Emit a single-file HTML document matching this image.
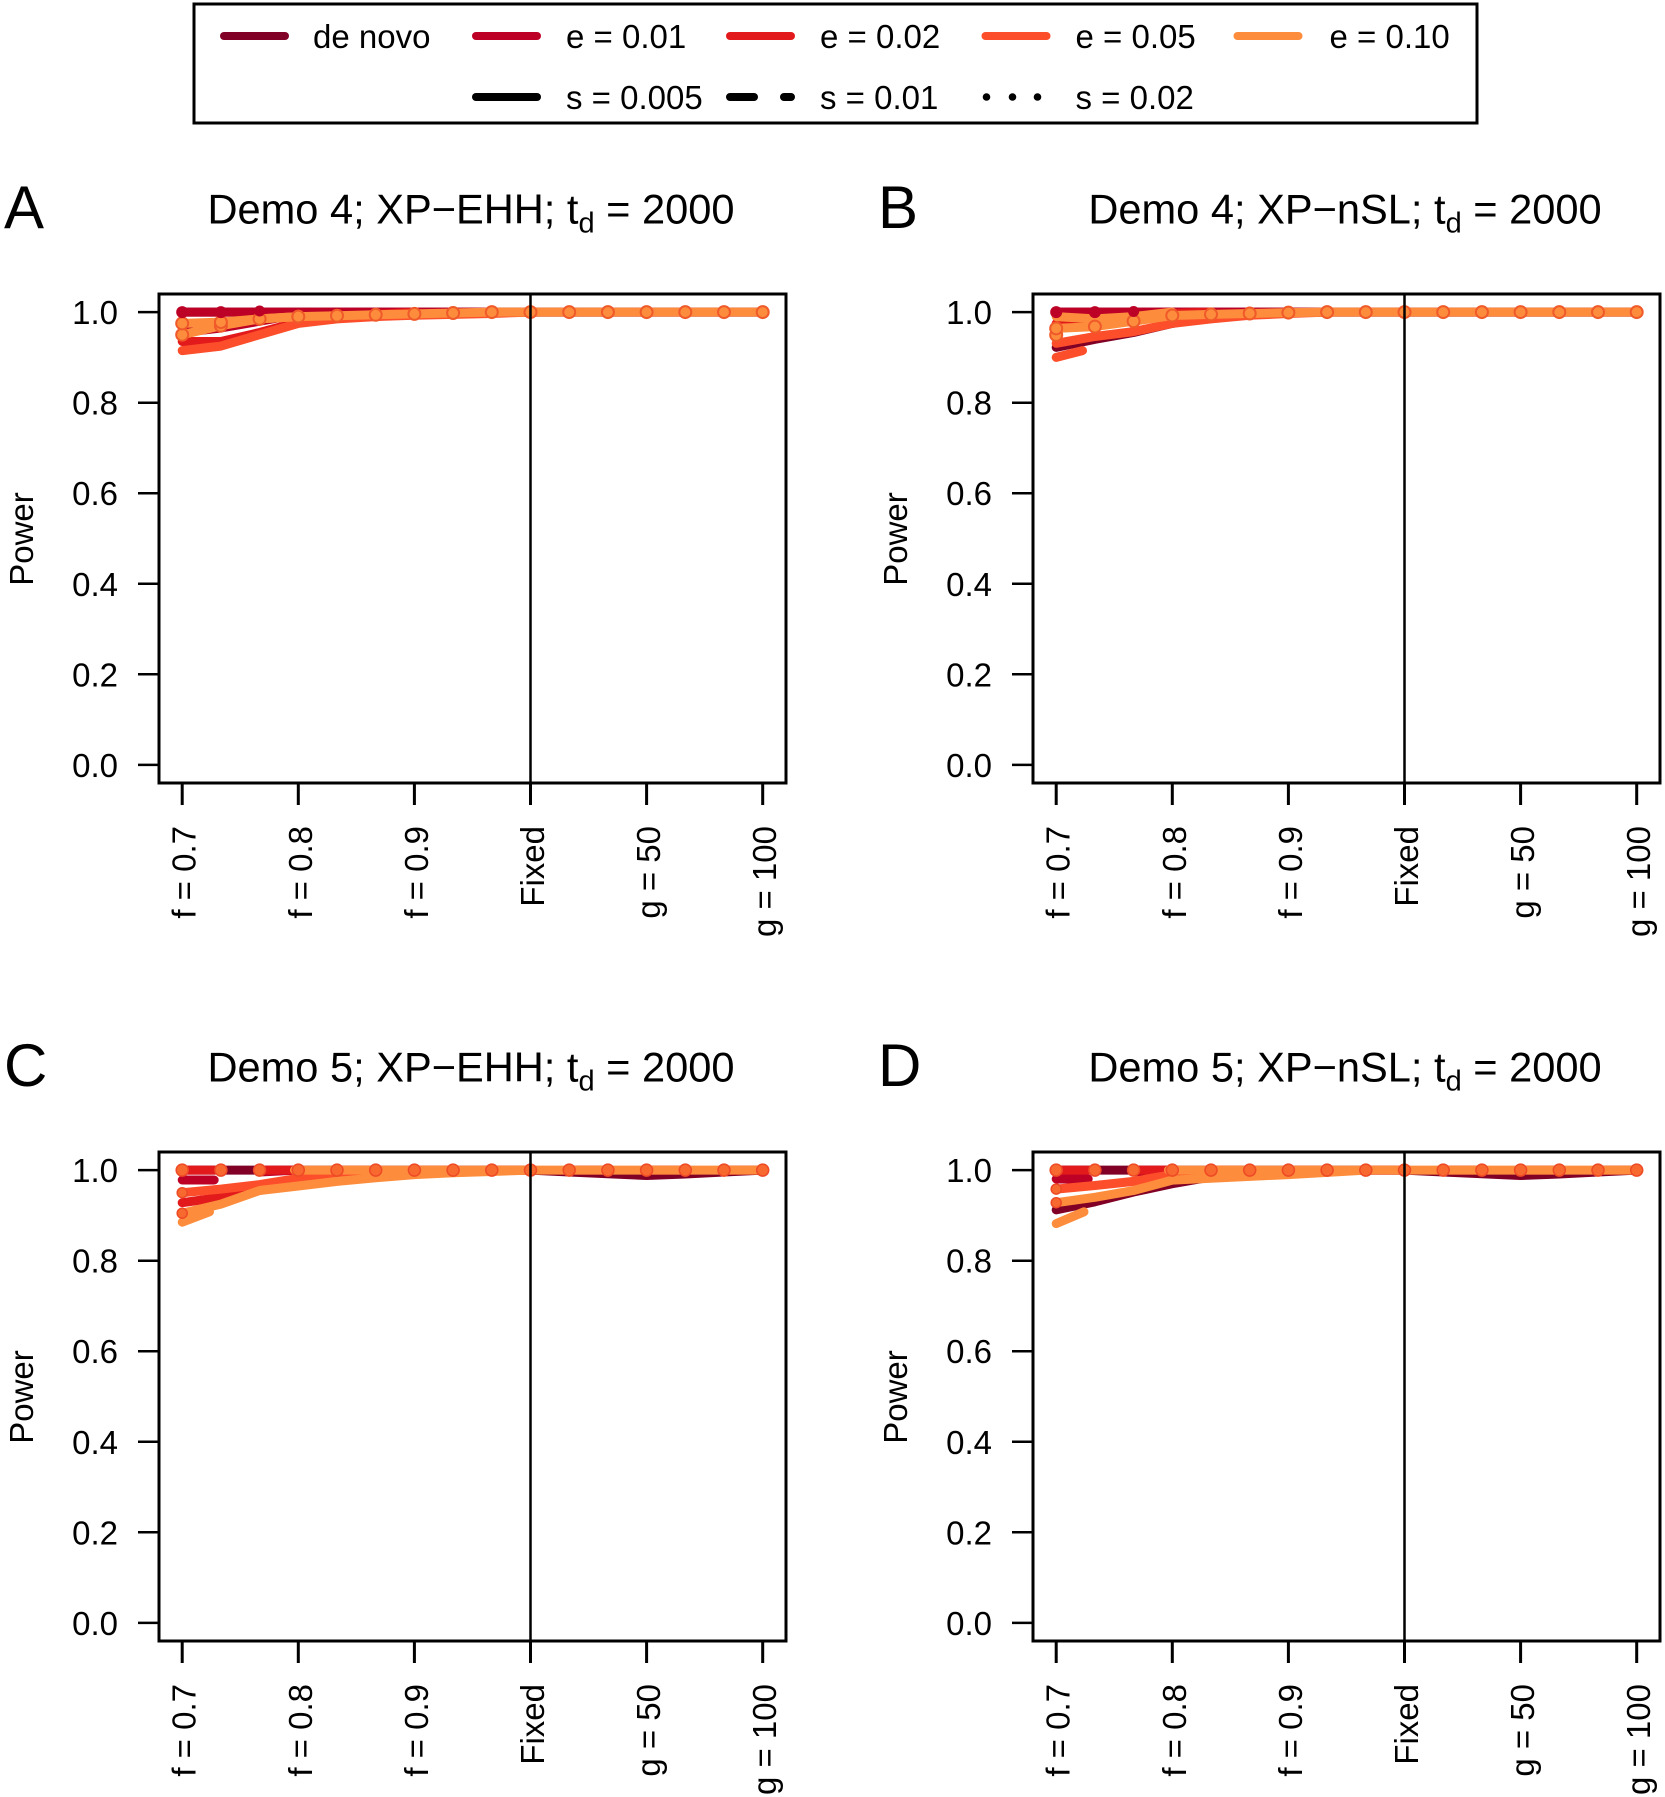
<!DOCTYPE html>
<html>
<head>
<meta charset="utf-8">
<style>
html,body{margin:0;padding:0;background:#fff;}
svg{display:block;font-family:"Liberation Sans",Arial,sans-serif;}
text{white-space:pre;}
</style>
</head>
<body>
<svg width="1665" height="1797" viewBox="0 0 1665 1797" xmlns="http://www.w3.org/2000/svg">
<rect width="1665" height="1797" fill="#fff"/>

<!-- LEGEND -->
<g>
<rect x="194" y="4" width="1283" height="119" fill="none" stroke="#000" stroke-width="3"/>
<g stroke-width="8" stroke-linecap="round" fill="none">
<line x1="224" y1="36" x2="285" y2="36" stroke="#800026"/>
<line x1="476" y1="36" x2="537" y2="36" stroke="#BD0026"/>
<line x1="730" y1="36" x2="791" y2="36" stroke="#E31A1C"/>
<line x1="985.5" y1="36" x2="1046.5" y2="36" stroke="#FC4E2A"/>
<line x1="1237.5" y1="36" x2="1298.5" y2="36" stroke="#FD8D3C"/>
<line x1="476" y1="97" x2="537" y2="97" stroke="#000"/>
<line x1="730" y1="97" x2="791" y2="97" stroke="#000" stroke-dasharray="24 30"/>
</g>
<circle cx="986.5" cy="97" r="3.8" fill="#000"/>
<circle cx="1012.5" cy="97" r="3.8" fill="#000"/>
<circle cx="1037.5" cy="97" r="3.8" fill="#000"/>
<g font-size="33" fill="#000">
<text x="313" y="48">de novo</text>
<text x="566" y="48">e = 0.01</text>
<text x="820" y="48">e = 0.02</text>
<text x="1075.5" y="48">e = 0.05</text>
<text x="1329.5" y="48">e = 0.10</text>
<text x="566" y="109">s = 0.005</text>
<text x="820" y="109">s = 0.01</text>
<text x="1075.5" y="109">s = 0.02</text>
</g>
</g>

<!-- PANEL A -->
<g transform="translate(159,294)">
<g fill="none" stroke-linecap="round" stroke-linejoin="round" stroke-width="9">
<polyline stroke="#800026" points="23.2,18.1 603.7,18.1"/>
<polyline stroke="#BD0026" points="23.2,18.1 603.7,18.1"/>
<polyline stroke="#BD0026" points="23.2,38.5 61.9,34 100.6,27.2 139.3,20.4 178,18.1"/>
<polyline stroke="#E31A1C" points="23.2,47.5 61.9,47.5 100.6,38.5 139.3,28.1 178,22.6 216.7,20.4 255.4,18.1"/>
<polyline stroke="#FC4E2A" points="23.2,56.6 61.9,52.1 100.6,40.7 139.3,29.4 178,24.9 216.7,22.6 255.4,21.3 294.1,20.4 332.8,19.5 371.5,18.1"/>
<polyline stroke="#FD8D3C" points="23.2,40.7 61.9,31.7 100.6,24.9 139.3,22.6"/>
<polyline stroke="#FD8D3C" points="23.2,29.4 61.9,28.1 100.6,24.9 139.3,22.6 178,21.7 216.7,20.8 255.4,19.9 294.1,19 332.8,18.1 603.7,18.1"/>
</g>
<g fill="#FD8D3C" stroke="#F05A2A" stroke-width="2">
<circle cx="23.2" cy="40.7" r="6"/><circle cx="61.9" cy="31.7" r="6"/>
<circle cx="23.2" cy="29.4" r="6"/><circle cx="61.9" cy="28.1" r="6"/><circle cx="100.6" cy="24.9" r="6"/><circle cx="139.3" cy="22.6" r="6"/>
<circle cx="178" cy="21.7" r="6"/><circle cx="216.7" cy="20.8" r="6"/><circle cx="255.4" cy="19.9" r="6"/><circle cx="294.1" cy="19" r="6"/>
<circle cx="332.8" cy="18.1" r="6"/><circle cx="371.5" cy="18.1" r="6"/><circle cx="410.2" cy="18.1" r="6"/><circle cx="448.9" cy="18.1" r="6"/>
<circle cx="487.6" cy="18.1" r="6"/><circle cx="526.3" cy="18.1" r="6"/><circle cx="565" cy="18.1" r="6"/><circle cx="603.7" cy="18.1" r="6"/>
</g>
<g fill="#BD0026"><circle cx="23.2" cy="18.1" r="6"/><circle cx="61.9" cy="18.1" r="6"/><circle cx="100.6" cy="17" r="5.5"/></g>

<rect x="0" y="0" width="627" height="489" fill="none" stroke="#000" stroke-width="3"/>
<line x1="371.5" y1="0" x2="371.5" y2="489" stroke="#000" stroke-width="2.5"/>
<path d="M-21 18.1H0M-21 108.7H0M-21 199.2H0M-21 289.8H0M-21 380.3H0M-21 470.9H0" stroke="#000" stroke-width="2.5"/>
<path d="M23.2 489V511M139.3 489V511M255.4 489V511M371.5 489V511M487.6 489V511M603.7 489V511" stroke="#000" stroke-width="3"/>
<g font-size="33" fill="#000" text-anchor="end">
<text x="-41" y="30.1">1.0</text><text x="-41" y="120.7">0.8</text><text x="-41" y="211.2">0.6</text>
<text x="-41" y="301.8">0.4</text><text x="-41" y="392.3">0.2</text><text x="-41" y="482.9">0.0</text>
<text transform="translate(36.7,532) rotate(-90)">f = 0.7</text>
<text transform="translate(152.8,532) rotate(-90)">f = 0.8</text>
<text transform="translate(268.9,532) rotate(-90)">f = 0.9</text>
<text transform="translate(385,532) rotate(-90)">Fixed</text>
<text transform="translate(501.1,532) rotate(-90)">g = 50</text>
<text transform="translate(617.2,532) rotate(-90)">g = 100</text>
</g>
<text transform="translate(-126,245) rotate(-90)" text-anchor="middle" font-size="33">Power</text>
<text x="312" y="-70.5" text-anchor="middle" font-size="41.6">Demo 4; XP−EHH; t<tspan font-size="29" dy="9">d</tspan><tspan dy="-9"> = 2000</tspan></text>
<text x="-155" y="-66" font-size="60">A</text>
</g>

<!-- PANEL B -->
<g transform="translate(1033,294)">
<g fill="none" stroke-linecap="round" stroke-linejoin="round" stroke-width="9">
<polyline stroke="#800026" points="23.2,18.1 603.7,18.1"/>
<polyline stroke="#800026" points="23.2,53.4 61.9,45.3 100.6,38.5 139.3,29.4 178,22.6 216.7,18.1"/>
<polyline stroke="#BD0026" points="23.2,18.1 603.7,18.1"/>
<polyline stroke="#BD0026" points="23.2,31.7 61.9,29.4 100.6,22.6 139.3,18.1"/>
<polyline stroke="#E31A1C" points="23.2,29.4 61.9,28.1 100.6,22.6 139.3,19.5 178,18.1"/>
<polyline stroke="#FC4E2A" points="23.2,49.3 61.9,42.5 100.6,37.6 139.3,29.4 178,24.9 216.7,21.3 255.4,19.5 294.1,18.1"/>
<polyline stroke="#FC4E2A" points="23.2,63.4 49.5,56.6"/>
<polyline stroke="#FD8D3C" points="23.2,22.6 61.9,24.9 100.6,22.6 139.3,18.1"/>
<polyline stroke="#FD8D3C" points="23.2,34.4 61.9,32.6 100.6,27.2 139.3,21.5 178,20.4 216.7,19.5 255.4,18.6 294.1,18.1 603.7,18.1"/>
</g>
<g fill="#FD8D3C" stroke="#F05A2A" stroke-width="2">
<circle cx="23.2" cy="41" r="6"/>
<circle cx="23.2" cy="34.4" r="6"/><circle cx="61.9" cy="32.6" r="6"/><circle cx="100.6" cy="27.2" r="6"/><circle cx="139.3" cy="21.5" r="6"/>
<circle cx="178" cy="20.4" r="6"/><circle cx="216.7" cy="19.5" r="6"/><circle cx="255.4" cy="18.6" r="6"/><circle cx="294.1" cy="18.1" r="6"/>
<circle cx="332.8" cy="18.1" r="6"/><circle cx="371.5" cy="18.1" r="6"/><circle cx="410.2" cy="18.1" r="6"/><circle cx="448.9" cy="18.1" r="6"/>
<circle cx="487.6" cy="18.1" r="6"/><circle cx="526.3" cy="18.1" r="6"/><circle cx="565" cy="18.1" r="6"/><circle cx="603.7" cy="18.1" r="6"/>
</g>
<g fill="#BD0026"><circle cx="23.2" cy="18.1" r="6"/><circle cx="61.9" cy="18.1" r="6"/><circle cx="100.6" cy="17.5" r="5.5"/></g>

<rect x="0" y="0" width="627" height="489" fill="none" stroke="#000" stroke-width="3"/>
<line x1="371.5" y1="0" x2="371.5" y2="489" stroke="#000" stroke-width="2.5"/>
<path d="M-21 18.1H0M-21 108.7H0M-21 199.2H0M-21 289.8H0M-21 380.3H0M-21 470.9H0" stroke="#000" stroke-width="2.5"/>
<path d="M23.2 489V511M139.3 489V511M255.4 489V511M371.5 489V511M487.6 489V511M603.7 489V511" stroke="#000" stroke-width="3"/>
<g font-size="33" fill="#000" text-anchor="end">
<text x="-41" y="30.1">1.0</text><text x="-41" y="120.7">0.8</text><text x="-41" y="211.2">0.6</text>
<text x="-41" y="301.8">0.4</text><text x="-41" y="392.3">0.2</text><text x="-41" y="482.9">0.0</text>
<text transform="translate(36.7,532) rotate(-90)">f = 0.7</text>
<text transform="translate(152.8,532) rotate(-90)">f = 0.8</text>
<text transform="translate(268.9,532) rotate(-90)">f = 0.9</text>
<text transform="translate(385,532) rotate(-90)">Fixed</text>
<text transform="translate(501.1,532) rotate(-90)">g = 50</text>
<text transform="translate(617.2,532) rotate(-90)">g = 100</text>
</g>
<text transform="translate(-126,245) rotate(-90)" text-anchor="middle" font-size="33">Power</text>
<text x="312" y="-70.5" text-anchor="middle" font-size="41.6">Demo 4; XP−nSL; t<tspan font-size="29" dy="9">d</tspan><tspan dy="-9"> = 2000</tspan></text>
<text x="-155" y="-66" font-size="60">B</text>
</g>

<!-- PANEL C -->
<g transform="translate(159,1152)">
<g fill="none" stroke-linecap="round" stroke-linejoin="round" stroke-width="9">
<polyline stroke="#800026" points="23.2,18.1 371.5,18.1 410.2,20 448.9,21.8 487.6,23.5 526.3,22 565,20 603.7,18.1"/>
<polyline stroke="#BD0026" stroke-dasharray="32 46" points="23.2,28 61.9,28 100.6,20 139.3,18.1 603.7,18.1"/>
<polyline stroke="#E31A1C" stroke-dasharray="32 46" points="23.2,18.1 603.7,18.1"/>
<polyline stroke="#E31A1C" points="23.2,50.7 61.9,45.3 100.6,38.5 139.3,29.4 178,24.9 216.7,21.3 255.4,18.1"/>
<polyline stroke="#FC4E2A" points="23.2,40.7 61.9,37.1 100.6,32.6 139.3,26.3 178,23.5 216.7,22.6 255.4,20.4 294.1,18.1"/>
<polyline stroke="#FD8D3C" points="23.2,61.2 61.9,52.1 100.6,38.5 139.3,34 178,29.4 216.7,25.8 255.4,22.6 294.1,20.8 332.8,19.5 371.5,18.1"/>
<polyline stroke="#FD8D3C" points="23.2,70.2 50.5,59.8"/>
<polyline stroke="#FD8D3C" points="135.5,18.1 603.7,18.1"/>
</g>
<g fill="#F8692F" stroke="#EE4A26" stroke-width="1.5">
<circle cx="23.2" cy="18.1" r="6"/><circle cx="61.9" cy="18.1" r="6"/><circle cx="100.6" cy="18.1" r="6"/>
<circle cx="139.3" cy="18.1" r="6"/><circle cx="178" cy="18.1" r="6"/><circle cx="216.7" cy="18.1" r="6"/><circle cx="255.4" cy="18.1" r="6"/>
<circle cx="294.1" cy="18.1" r="6"/><circle cx="332.8" cy="18.1" r="6"/><circle cx="371.5" cy="18.1" r="6"/><circle cx="410.2" cy="18.1" r="6"/>
<circle cx="448.9" cy="18.1" r="6"/><circle cx="487.6" cy="18.1" r="6"/><circle cx="526.3" cy="18.1" r="6"/><circle cx="565" cy="18.1" r="6"/>
<circle cx="603.7" cy="18.1" r="6"/>
<circle cx="23.2" cy="40.7" r="5"/><circle cx="23.2" cy="61.2" r="5"/>
</g>

<rect x="0" y="0" width="627" height="489" fill="none" stroke="#000" stroke-width="3"/>
<line x1="371.5" y1="0" x2="371.5" y2="489" stroke="#000" stroke-width="2.5"/>
<path d="M-21 18.1H0M-21 108.7H0M-21 199.2H0M-21 289.8H0M-21 380.3H0M-21 470.9H0" stroke="#000" stroke-width="2.5"/>
<path d="M23.2 489V511M139.3 489V511M255.4 489V511M371.5 489V511M487.6 489V511M603.7 489V511" stroke="#000" stroke-width="3"/>
<g font-size="33" fill="#000" text-anchor="end">
<text x="-41" y="30.1">1.0</text><text x="-41" y="120.7">0.8</text><text x="-41" y="211.2">0.6</text>
<text x="-41" y="301.8">0.4</text><text x="-41" y="392.3">0.2</text><text x="-41" y="482.9">0.0</text>
<text transform="translate(36.7,532) rotate(-90)">f = 0.7</text>
<text transform="translate(152.8,532) rotate(-90)">f = 0.8</text>
<text transform="translate(268.9,532) rotate(-90)">f = 0.9</text>
<text transform="translate(385,532) rotate(-90)">Fixed</text>
<text transform="translate(501.1,532) rotate(-90)">g = 50</text>
<text transform="translate(617.2,532) rotate(-90)">g = 100</text>
</g>
<text transform="translate(-126,245) rotate(-90)" text-anchor="middle" font-size="33">Power</text>
<text x="312" y="-70.5" text-anchor="middle" font-size="41.6">Demo 5; XP−EHH; t<tspan font-size="29" dy="9">d</tspan><tspan dy="-9"> = 2000</tspan></text>
<text x="-155" y="-66" font-size="60">C</text>
</g>

<!-- PANEL D -->
<g transform="translate(1033,1152)">
<g fill="none" stroke-linecap="round" stroke-linejoin="round" stroke-width="9">
<polyline stroke="#800026" points="23.2,18.1 371.5,18.1 410.2,20 448.9,21.8 487.6,23.5 526.3,22 565,20 603.7,18.1"/>
<polyline stroke="#800026" points="23.2,57.9 61.9,49.8 100.6,40 139.3,31.7 178,24.9 216.7,20.4 255.4,18.1"/>
<polyline stroke="#BD0026" stroke-dasharray="32 46" points="23.2,27 61.9,27 100.6,20 139.3,18.1 603.7,18.1"/>
<polyline stroke="#E31A1C" stroke-dasharray="32 46" points="23.2,18.1 603.7,18.1"/>
<polyline stroke="#FC4E2A" points="23.2,37.1 61.9,33.5 100.6,29.4 139.3,22.6 178,20.4 216.7,18.1"/>
<polyline stroke="#FD8D3C" points="23.2,50.7 61.9,45.3 100.6,38.5 139.3,28.1 178,26.3 216.7,24.4 255.4,22.6 294.1,20.4 332.8,18.1"/>
<polyline stroke="#FD8D3C" points="23.2,71.6 51,59.8"/>
<polyline stroke="#FD8D3C" points="135.5,18.1 603.7,18.1"/>
</g>
<g fill="#F8692F" stroke="#EE4A26" stroke-width="1.5">
<circle cx="23.2" cy="18.1" r="6"/><circle cx="61.9" cy="18.1" r="6"/><circle cx="100.6" cy="18.1" r="6"/>
<circle cx="139.3" cy="18.1" r="6"/><circle cx="178" cy="18.1" r="6"/><circle cx="216.7" cy="18.1" r="6"/><circle cx="255.4" cy="18.1" r="6"/>
<circle cx="294.1" cy="18.1" r="6"/><circle cx="332.8" cy="18.1" r="6"/><circle cx="371.5" cy="18.1" r="6"/><circle cx="410.2" cy="18.1" r="6"/>
<circle cx="448.9" cy="18.1" r="6"/><circle cx="487.6" cy="18.1" r="6"/><circle cx="526.3" cy="18.1" r="6"/><circle cx="565" cy="18.1" r="6"/>
<circle cx="603.7" cy="18.1" r="6"/>
<circle cx="23.2" cy="37.1" r="5"/><circle cx="23.2" cy="50.7" r="5"/>
</g>

<rect x="0" y="0" width="627" height="489" fill="none" stroke="#000" stroke-width="3"/>
<line x1="371.5" y1="0" x2="371.5" y2="489" stroke="#000" stroke-width="2.5"/>
<path d="M-21 18.1H0M-21 108.7H0M-21 199.2H0M-21 289.8H0M-21 380.3H0M-21 470.9H0" stroke="#000" stroke-width="2.5"/>
<path d="M23.2 489V511M139.3 489V511M255.4 489V511M371.5 489V511M487.6 489V511M603.7 489V511" stroke="#000" stroke-width="3"/>
<g font-size="33" fill="#000" text-anchor="end">
<text x="-41" y="30.1">1.0</text><text x="-41" y="120.7">0.8</text><text x="-41" y="211.2">0.6</text>
<text x="-41" y="301.8">0.4</text><text x="-41" y="392.3">0.2</text><text x="-41" y="482.9">0.0</text>
<text transform="translate(36.7,532) rotate(-90)">f = 0.7</text>
<text transform="translate(152.8,532) rotate(-90)">f = 0.8</text>
<text transform="translate(268.9,532) rotate(-90)">f = 0.9</text>
<text transform="translate(385,532) rotate(-90)">Fixed</text>
<text transform="translate(501.1,532) rotate(-90)">g = 50</text>
<text transform="translate(617.2,532) rotate(-90)">g = 100</text>
</g>
<text transform="translate(-126,245) rotate(-90)" text-anchor="middle" font-size="33">Power</text>
<text x="312" y="-70.5" text-anchor="middle" font-size="41.6">Demo 5; XP−nSL; t<tspan font-size="29" dy="9">d</tspan><tspan dy="-9"> = 2000</tspan></text>
<text x="-155" y="-66" font-size="60">D</text>
</g>
</svg>
</body>
</html>
